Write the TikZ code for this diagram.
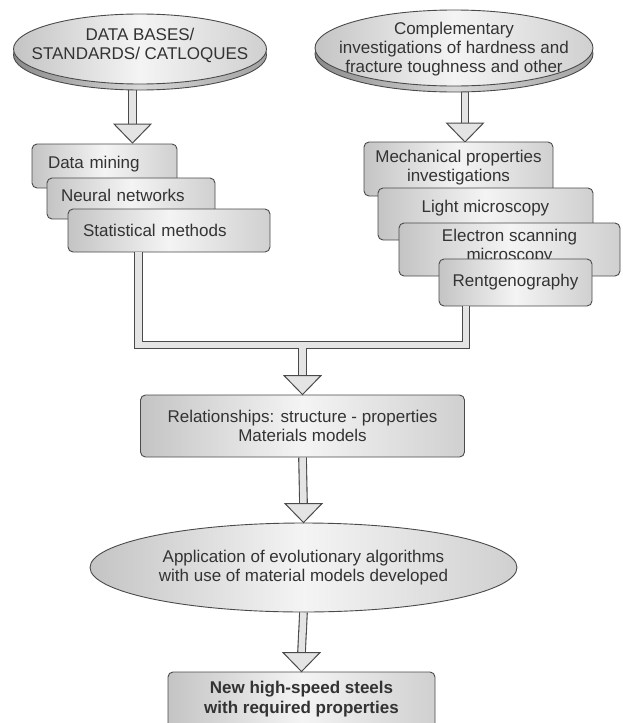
\documentclass[tikz,border=0pt]{standalone}
\usepackage{fontspec}
\setmainfont{Liberation Sans}
\usepackage{tikz}
\usetikzlibrary{arrows.meta, positioning, shapes.geometric, calc, shadows, backgrounds}
\usepackage{xcolor}
\definecolor{edgegray}{HTML}{4A4A4A}
\definecolor{boxdark}{HTML}{C4C4C4}
\definecolor{boxlight}{HTML}{F4F4F4}
\definecolor{rimdark}{HTML}{8A8A8A}
\definecolor{rimlight}{HTML}{D8D8D8}
\definecolor{pipefill}{HTML}{E4E4E4}

\tikzset{
  card/.style={draw=edgegray, line width=0.9pt, rounded corners=5pt,
    left color=boxdark, right color=boxdark!80, middle color=boxlight,
    inner sep=0pt, font=\fontsize{17}{19}\selectfont, text=black!80},
  disc/.style={ellipse, draw=edgegray, line width=0.9pt, inner sep=0pt,
    left color=boxdark, right color=boxdark!80, middle color=boxlight},
  disctext/.style={font=\fontsize{17}{19}\selectfont, text=black!80, align=center,
    inner sep=0pt},
  rim/.style={general shadow={shadow yshift=-6pt, left color=rimdark,
    right color=rimdark!80, middle color=rimlight, draw=edgegray, line width=0.9pt}},
  pipe/.style={draw=edgegray, double=pipefill, double distance=6.5pt, line width=1.1pt},
  arrowhead/.style={draw=edgegray, fill=pipefill, line width=1pt, line join=miter}
}

% block arrow: shaft from #1, triangular head ending at #2
\newcommand{\blockarrow}[2]{%
  \draw[pipe] (#1) -- ($(#2)+(0,19)$);
  \draw[arrowhead] ($(#2)+(-18.5,19)$) -- ($(#2)+(18.5,19)$) -- (#2) -- cycle;
}

\begin{document}
\begin{tikzpicture}[x=1pt, y=1pt]
  \useasboundingbox (0,0) rectangle (622,-723);

  % sources
  \node[disc, rim, minimum width=253pt, minimum height=70pt,
    label={[disctext, yshift=4pt]center:{DATA BASES/\\STANDARDS/ CATLOQUES}}]
    (db) at (140,-49) {};
  \node[disc, rim, minimum width=278pt, minimum height=76pt,
    label={[disctext, yshift=-1pt]center:{Complementary\\investigations of hardness and\\fracture toughness and other}}]
    (comp) at (454,-48) {};

  % left stack
  \node[card, minimum width=145pt, minimum height=44pt, text width=113pt, align=left,
    text depth=8pt] (dm) at (104.5,-166) {Data mining};
  \node[card, minimum width=168pt, minimum height=41pt, text width=140pt, align=left,
    text depth=6pt] (nn) at (131,-198.5) {Neural networks};
  \node[card, minimum width=202pt, minimum height=43pt, text width=172pt, align=left]
    (stat) at (169,-230.5) {Statistical methods};

  % right stack
  \node[card, minimum width=189pt, minimum height=54pt, align=center, text depth=7pt]
    (mech) at (458.5,-169) {Mechanical properties\\investigations};
  \node[card, minimum width=215pt, minimum height=52pt, align=center, text depth=16pt]
    (light) at (485.5,-214) {Light microscopy};
  \node[card, minimum width=221pt, minimum height=53pt, align=center, text depth=9pt]
    (elec) at (509.5,-249.5) {Electron scanning\\microscopy};
  \node[card, minimum width=153pt, minimum height=47pt, align=center]
    (rent) at (515.5,-282.5) {Rentgenography};

  % results
  \node[card, minimum width=324pt, minimum height=62pt, align=center]
    (rel) at (302.5,-426) {Relationships: structure - properties\\Materials models};
  \node[disc, minimum width=427pt, minimum height=89pt,
    label={[disctext]center:{Application of evolutionary algorithms\\with use of material models developed}}]
    (app) at (303.5,-567.5) {};
  \node[card, minimum width=267pt, minimum height=58pt, align=center,
    font=\fontsize{17}{20}\selectfont\bfseries, text depth=8pt] (steel) at (301.5,-701)
    {New high-speed steels\\with required properties};

  % arrows into the stacks
  \coordinate (tipl) at (132.5,-143);
  \coordinate (tipr) at (465,-142);
  \begin{scope}[on background layer]
    \blockarrow{tipl |- db.south}{tipl}
    \blockarrow{tipr |- comp.south}{tipr}
  \end{scope}

  % collector pipe
  \coordinate (jl) at (138.5,-345);
  \coordinate (jr) at (466,-345);
  \coordinate (jm) at (302.5,-345);
  \draw[pipe] (jl |- stat.south) -- (jl) -- (jr) -- (jr |- rent.south)
    (jm) -- ($(rel.north)+(0,19)$);
  \draw[arrowhead] ($(rel.north)+(-18.5,19)$) -- ($(rel.north)+(18.5,19)$) -- (rel.north) -- cycle;

  \blockarrow{rel.south}{app.north}
  \blockarrow{app.south}{steel.north}
\end{tikzpicture}
\end{document}
